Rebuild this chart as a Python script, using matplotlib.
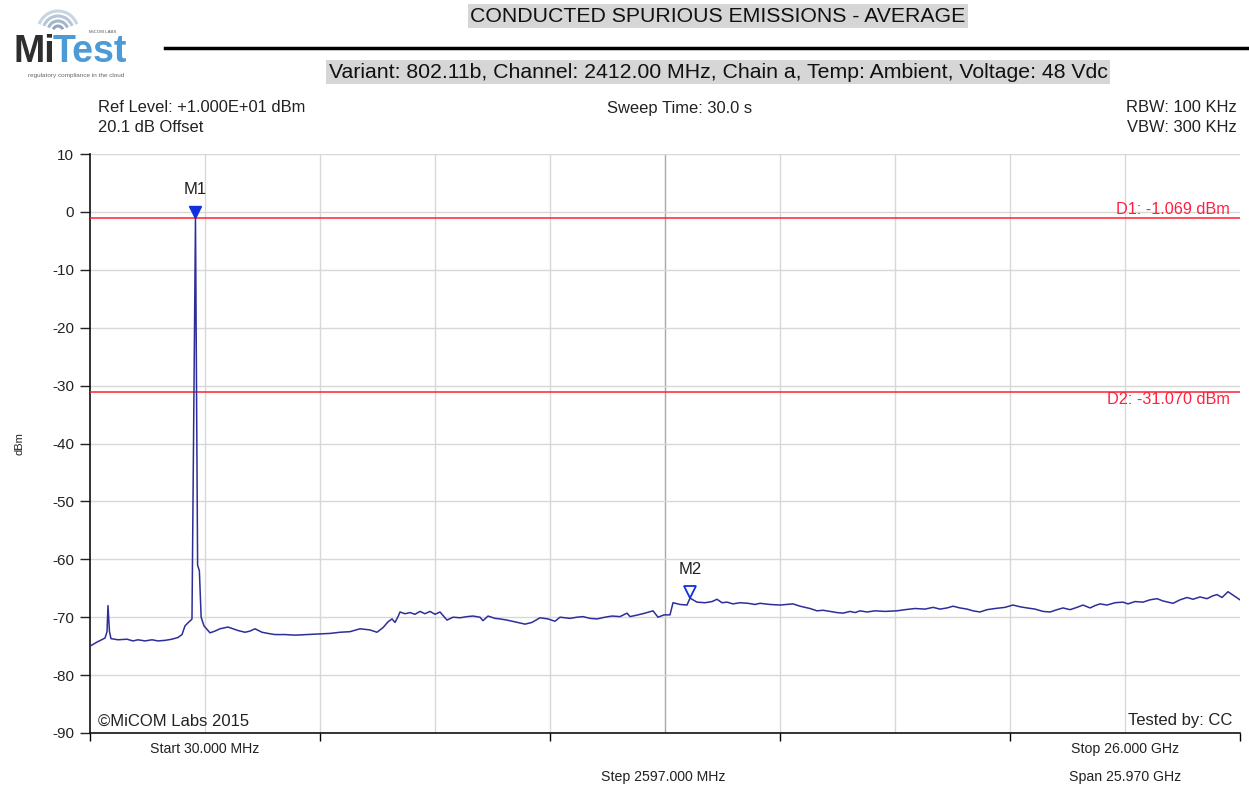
"""
Conducted spurious emissions (average) plot, MiTest style.
"""

import numpy as np
import matplotlib
matplotlib.use('Agg')
import matplotlib.pyplot as plt
from matplotlib.patches import Arc
from matplotlib.transforms import ScaledTranslation

plt.rcParams['font.family'] = ['Liberation Sans', 'DejaVu Sans']

# trace (MHz, dBm)
freq_mhz = [
    30, 75, 188, 369, 414, 436, 470, 504, 662, 866, 1001, 1114, 1272, 1430,
    1566, 1724, 1882, 2017, 2108, 2175, 2266, 2311, 2333, 2412, 2460, 2500,
    2540, 2604, 2740, 2853, 2966, 3146, 3259, 3372, 3530, 3643, 3756, 3914,
    4049, 4208, 4434, 4660, 4931, 5224, 5450, 5676, 5902, 6128, 6353, 6511,
    6647, 6760, 6850, 6918, 6986, 7031, 7144, 7257, 7369, 7482, 7595, 7708,
    7821, 7934, 8092, 8228, 8386, 8544, 8679, 8837, 8905, 9018, 9176, 9289,
    9447, 9628, 9741, 9854, 10012, 10192, 10373, 10531, 10644, 10870, 11028,
    11163, 11321, 11480, 11660, 11818, 11999, 12157, 12225, 12405, 12564,
    12744, 12857, 12993, 13128, 13196, 13354, 13512, 13580, 13738, 13919,
    14077, 14190, 14302, 14415, 14551, 14709, 14890, 15048, 15161, 15386,
    15612, 15906, 16064, 16290, 16448, 16583, 16741, 16899, 17035, 17193,
    17306, 17419, 17577, 17758, 17983, 18254, 18435, 18661, 18887, 19068,
    19226, 19384, 19519, 19677, 19835, 19971, 20129, 20287, 20468, 20693,
    20874, 21032, 21190, 21371, 21552, 21710, 21868, 22003, 22161, 22319,
    22455, 22613, 22726, 22839, 22997, 23178, 23358, 23471, 23629, 23810,
    23968, 24126, 24262, 24488, 24646, 24804, 24939, 25097, 25255, 25390,
    25481, 25594, 25729, 25865, 26000,
]
level_dbm = [
    -75.0, -74.8, -74.3, -73.6, -72.5, -68.0, -72.5, -73.7, -73.9, -73.8,
    -74.1, -73.9, -74.1, -73.9, -74.1, -74.0, -73.8, -73.5, -73.0, -71.5,
    -70.8, -70.5, -70.3, -1.069, -61.0, -62.0, -70.0, -71.5, -72.7, -72.4,
    -72.0, -71.7, -72.0, -72.3, -72.6, -72.4, -72.0, -72.6, -72.8, -73.0,
    -73.0, -73.1, -73.0, -72.9, -72.8, -72.6, -72.5, -72.0, -72.2, -72.6,
    -71.8, -70.8, -70.3, -70.9, -69.9, -69.1, -69.4, -69.2, -69.5, -69.0,
    -69.4, -69.0, -69.5, -69.1, -70.5, -70.0, -70.1, -69.9, -69.8, -70.0,
    -70.6, -69.8, -70.2, -70.3, -70.5, -70.8, -71.0, -71.2, -70.9, -70.1,
    -70.3, -70.7, -70.0, -70.2, -70.0, -69.9, -70.2, -70.3, -70.0, -69.8,
    -69.9, -69.3, -69.9, -69.6, -69.3, -68.9, -70.0, -69.6, -69.6, -67.5,
    -67.8, -67.9, -66.7, -67.4, -67.5, -67.3, -66.9, -67.5, -67.4, -67.7,
    -67.5, -67.6, -67.8, -67.6, -67.8, -67.9, -67.7, -68.1, -68.5, -68.9,
    -68.8, -69.0, -69.2, -69.3, -69.0, -69.2, -68.9, -69.1, -68.9, -69.0,
    -68.9, -68.7, -68.5, -68.6, -68.3, -68.6, -68.4, -68.1, -68.4, -68.6,
    -68.9, -69.1, -68.7, -68.5, -68.3, -67.9, -68.2, -68.4, -68.6, -69.0,
    -69.1, -68.7, -68.4, -68.7, -68.3, -67.9, -68.4, -68.0, -67.7, -67.9,
    -67.5, -67.4, -67.7, -67.3, -67.4, -67.0, -66.8, -67.2, -67.6, -67.0,
    -66.6, -66.9, -66.5, -66.8, -66.3, -66.1, -66.6, -65.6, -66.3, -67.0,
]

start_mhz = 30.0
stop_mhz = 26000.0
step_mhz = 2597.0
y_ticks = [10, 0, -10, -20, -30, -40, -50, -60, -70, -80, -90]

d1_level = -1.069
d2_level = -31.070
m1_freq, m1_level = 2412.0, -1.069
m2_freq, m2_level = 13580.0, -66.7

TXT = '#222222'
W, H = 1249, 790
fig = plt.figure(figsize=(W / 100, H / 100), dpi=100)


def px(x, y):
    """pixel (from top-left) -> figure fraction"""
    return x / W, 1 - y / H


# plot area
ax = fig.add_axes([90 / W, 1 - 733 / H, (1240 - 90) / W, (733 - 154) / H])
ax.plot(freq_mhz, level_dbm, color='#2e2e9a', lw=1.1, zorder=4)

ax.axhline(d1_level, color='#ff2030', lw=1.1, zorder=3)
ax.axhline(d2_level, color='#ff2030', lw=1.1, zorder=3)
ax.text(25780, d1_level + 0.15, f'D1: {d1_level:.3f} dBm', color='#ff2040',
        ha='right', va='bottom', fontsize=11.7, zorder=5)
ax.text(25780, d2_level - 0.1, f'D2: {d2_level:.3f} dBm', color='#ff2040',
        ha='right', va='top', fontsize=11.7, zorder=5)

# markers: apex of triangle on the trace
up = ScaledTranslation(0, 4.5 / 72, fig.dpi_scale_trans)
ax.plot([m1_freq], [m1_level], marker='v', ms=9, color='#1030e0',
        mec='#1030e0', transform=ax.transData + up, zorder=6, clip_on=False)
ax.plot([m2_freq], [m2_level], marker='v', ms=9, mfc='none', mec='#1030e0',
        mew=1.3, transform=ax.transData + up, zorder=6)
ax.annotate('M1', (m1_freq, m1_level), xytext=(0, 15), textcoords='offset points',
            ha='center', va='bottom', fontsize=12, color=TXT)
ax.annotate('M2', (m2_freq, m2_level), xytext=(0, 15), textcoords='offset points',
            ha='center', va='bottom', fontsize=12, color=TXT)

# grid
ax.set_xlim(start_mhz, stop_mhz)
ax.set_ylim(-90, 10)
for k in range(1, 10):
    f = start_mhz + k * step_mhz
    ax.axvline(f, color='#a8a8a8' if k == 5 else '#d8d8d8', lw=1.0, zorder=1)
for v in y_ticks[:-1]:
    ax.axhline(v, color='#d8d8d8', lw=1.0, zorder=1)

ax.set_yticks(y_ticks)
ax.set_yticklabels([str(v) for v in y_ticks])
ax.set_xticks([start_mhz + k * step_mhz for k in range(0, 11, 2)])
ax.set_xticklabels([])
ax.tick_params(axis='y', direction='out', length=7.5, width=1, labelsize=11,
               colors=TXT, pad=4)
ax.tick_params(axis='x', direction='out', length=6, width=1)
for s in ('top', 'right'):
    ax.spines[s].set_visible(False)
for s in ('left', 'bottom'):
    ax.spines[s].set_color('#111111')
    ax.spines[s].set_linewidth(1.2)
ax.set_ylabel('dBm', fontsize=8, labelpad=20, color=TXT)

ax.text(0.007, 0.008, '©MiCOM Labs 2015', transform=ax.transAxes,
        ha='left', va='bottom', fontsize=12, color=TXT)
ax.text(0.9935, 0.008, 'Tested by: CC', transform=ax.transAxes,
        ha='right', va='bottom', fontsize=12, color=TXT)

# header texts
gray_box = dict(boxstyle='square,pad=0.12', facecolor='#d6d6d6', edgecolor='none')
fig.text(*px(718, 16), 'CONDUCTED SPURIOUS EMISSIONS - AVERAGE', ha='center',
         va='center', fontsize=15.3, color='#111111', bbox=gray_box)
fig.text(*px(718, 72), 'Variant: 802.11b, Channel: 2412.00 MHz, Chain a, '
         'Temp: Ambient, Voltage: 48 Vdc', ha='center', va='center',
         fontsize=15.3, color='#111111', bbox=gray_box)
fig.add_artist(plt.Line2D([165 / W, 1.0], [1 - 48 / H] * 2, color='black', lw=2.5))

fig.text(*px(98, 108), 'Ref Level: +1.000E+01 dBm', ha='left', va='center',
         fontsize=11.9, color=TXT)
fig.text(*px(98, 128), '20.1 dB Offset', ha='left', va='center',
         fontsize=11.9, color=TXT)
fig.text(*px(680, 109), 'Sweep Time: 30.0 s', ha='center', va='center',
         fontsize=11.9, color=TXT)
fig.text(*px(1237, 108), 'RBW: 100 KHz', ha='right', va='center',
         fontsize=11.9, color=TXT)
fig.text(*px(1237, 128), 'VBW: 300 KHz', ha='right', va='center',
         fontsize=11.9, color=TXT)

# footer texts
fig.text(*px(205, 749), f'Start {start_mhz:.3f} MHz', ha='center', va='center',
         fontsize=10.2, color=TXT)
fig.text(*px(1125, 749), f'Stop {stop_mhz / 1000:.3f} GHz', ha='center',
         va='center', fontsize=10.2, color=TXT)
fig.text(*px(663, 777), f'Step {step_mhz:.3f} MHz', ha='center', va='center',
         fontsize=10.2, color=TXT)
fig.text(*px(1125, 777), f'Span {(stop_mhz - start_mhz) / 1000:.3f} GHz',
         ha='center', va='center', fontsize=10.2, color=TXT)

# logo
lg = fig.add_axes([8 / W, 1 - 82 / H, 140 / W, 78 / H])
lg.set_xlim(8, 148)
lg.set_ylim(82, 4)
lg.axis('off')
for r, c in [(5, '#8fa7bf'), (10, '#a3b7cb'), (15, '#b5c6d6'), (20, '#c8d5e2')]:
    lg.add_patch(Arc((58, 31), 2 * r, 2 * r, theta1=200, theta2=340,
                     color=c, lw=2.2))
lg.text(13, 62, 'Mi', fontsize=27, fontweight='bold', color='#2e2e2e',
        ha='left', va='baseline')
lg.text(53, 62, 'Test', fontsize=27, fontweight='bold', color='#4c9ad6',
        ha='left', va='baseline')
lg.text(103, 32, 'MiCOM LABS', fontsize=3.2, color='#555555', ha='center',
        va='center')
lg.text(76, 76, 'regulatory compliance in the cloud', fontsize=4.6,
        color='#666666', ha='center', va='center')

fig.savefig('out.png', dpi=100)
plt.close(fig)
